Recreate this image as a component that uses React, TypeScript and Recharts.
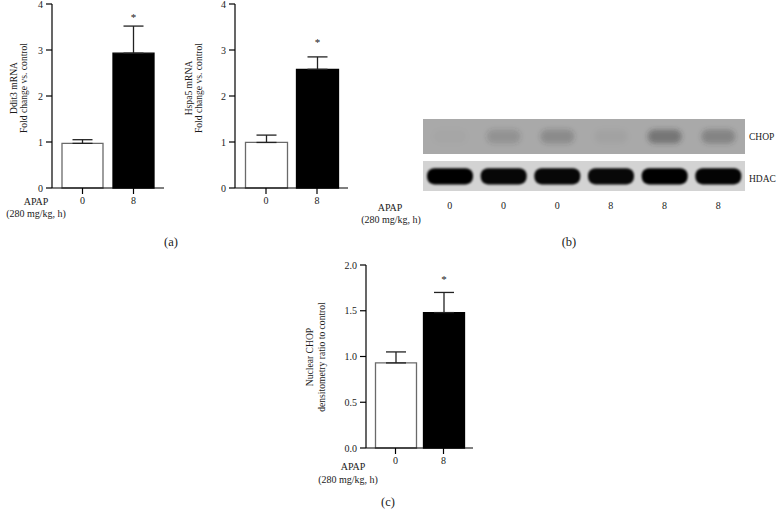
import React from 'react';
import { BarChart, Bar, XAxis, YAxis, ErrorBar, Cell, ReferenceArea } from 'recharts';

// ---------- data ----------
const groups = ['0', '8'];
const dditMean = [0.97, 2.93];
const dditErr = [0.08, 0.59];
const hspaMean = [0.99, 2.58];
const hspaErr = [0.16, 0.27];
const chopRatioMean = [0.93, 1.48];
const chopRatioErr = [0.12, 0.22];
const significance = ['', '*'];
const foldTicks = [0, 1, 2, 3, 4];
const ratioTicks = [0, 0.5, 1.0, 1.5, 2.0];
const blotLanes = ['0', '0', '0', '8', '8', '8'];
const chopIntensity = [0.02, 0.2, 0.25, 0.04, 0.42, 0.32];
const hdacIntensity = [1, 0.97, 0.97, 0.96, 1, 0.98];
const barFills = ['#ffffff', '#000000'];
const barStrokes = ['#6a6a6a', '#000000'];

const FONT = '"Liberation Serif", "DejaVu Serif", serif';
const TXT = '#1a1a1a';

type Row = { group: string; mean: number; err: number; errRange: [number, number]; sig: string };
const makeRows = (means: number[], errs: number[]): Row[] =>
  groups.map((g, i) => ({ group: g, mean: means[i], err: errs[i], errRange: [0, errs[i]], sig: significance[i] }));

const dditRows = makeRows(dditMean, dditErr);
const hspaRows = makeRows(hspaMean, hspaErr);
const ratioRows = makeRows(chopRatioMean, chopRatioErr);

const chopRows = blotLanes.map((l, i) => ({ lane: l, band: [0.3, 0.7], chop: chopIntensity[i] }));
const hdacRows = blotLanes.map((l, i) => ({ lane: l, band: [0.22, 0.76], hdac: hdacIntensity[i] }));

const starLabel = (rows: Row[], off: number) => (props: any) => {
  const { x, y, width, height, index } = props;
  const r = rows[index];
  if (!r || !r.sig) return null;
  const ppu = Number(height) / r.mean;
  const errTop = Number(y) - r.err * ppu;
  return (
    <text x={Number(x) + Number(width) / 2} y={errTop - off + 6} textAnchor="middle" fontSize={11} fontFamily={FONT} fill={TXT}>
      {r.sig}
    </text>
  );
};

const yLabel = (l1: string, l2: string, b1: number, b2: number, cy: number) => () => (
  <g fontFamily={FONT} fontSize={9.6} fill={TXT}>
    <text transform={`translate(${b1},${cy}) rotate(-90)`} textAnchor="middle">{l1}</text>
    <text transform={`translate(${b2},${cy}) rotate(-90)`} textAnchor="middle">{l2}</text>
  </g>
);

const axisLine = { stroke: '#000', strokeWidth: 1.2 };
const tickStyle = { fontSize: 10, fontFamily: FONT, fill: TXT };

type BarPanelProps = {
  rows: Row[];
  width: number;
  height: number;
  margin: { top: number; right: number; bottom: number; left: number };
  ticks: number[];
  domain: [number, number];
  pad: number;
  barSize: number;
  fmt?: (v: number) => string;
  label: () => React.ReactElement;
  starOff: number;
};

const BarPanel = (p: BarPanelProps) => (
  <BarChart width={p.width} height={p.height} data={p.rows} margin={p.margin} barCategoryGap={0}>
    <XAxis
      dataKey="group"
      axisLine={axisLine}
      tickLine={axisLine}
      tickSize={6}
      tickMargin={3}
      height={20}
      tick={tickStyle}
      padding={{ left: p.pad, right: p.pad }}
    />
    <YAxis
      domain={p.domain}
      ticks={p.ticks}
      width={40}
      axisLine={axisLine}
      tickLine={axisLine}
      tickSize={6}
      tickMargin={3}
      tick={tickStyle}
      tickFormatter={p.fmt}
      label={p.label}
      interval={0}
    />
    <Bar dataKey="mean" barSize={p.barSize} isAnimationActive={false} label={starLabel(p.rows, p.starOff)}>
      {p.rows.map((r, i) => (
        <Cell key={i} fill={barFills[i]} stroke={barStrokes[i]} strokeWidth={1.3} />
      ))}
      <ErrorBar dataKey="errRange" width={10} stroke="#222" strokeWidth={1.3} isAnimationActive={false} />
    </Bar>
  </BarChart>
);

const ChopShape = (props: any) => {
  const { x, y, width, height, payload } = props;
  return (
    <g>
      <defs>
        <filter id="chopBlur" x="-50%" y="-100%" width="200%" height="300%">
          <feGaussianBlur stdDeviation="2.6" />
        </filter>
      </defs>
      <rect x={x + 5} y={y} width={width - 10} height={height} rx={height / 2} fill="#333" fillOpacity={payload.chop} filter="url(#chopBlur)" />
    </g>
  );
};

const HdacShape = (props: any) => {
  const { x, y, width, height, payload } = props;
  return (
    <g>
      <defs>
        <filter id="hdacBlur" x="-20%" y="-50%" width="140%" height="200%">
          <feGaussianBlur stdDeviation="0.9" />
        </filter>
      </defs>
      <rect x={x} y={y} width={width} height={height} rx={height / 2.2} fill="#050505" fillOpacity={payload.hdac} filter="url(#hdacBlur)" />
    </g>
  );
};

const abs = (left: number, top: number): React.CSSProperties => ({ position: 'absolute', left, top });

export default function App() {
  return (
    <div style={{ position: 'absolute', left: 0, top: 0, width: 778, height: 519, background: '#fff', overflow: 'hidden' }}>
      <div style={abs(0, 0)}>
        <BarPanel
          rows={dditRows}
          width={175}
          height={215}
          margin={{ top: 4, right: 11, bottom: 7, left: 12 }}
          ticks={foldTicks}
          domain={[0, 4]}
          pad={5}
          barSize={41}
          label={yLabel('Ddit3 mRNA', 'Fold change vs. control', 17, 27, 88)}
          starOff={11}
        />
      </div>
      <div style={abs(183, 0)}>
        <BarPanel
          rows={hspaRows}
          width={175}
          height={215}
          margin={{ top: 4, right: 10, bottom: 7, left: 12 }}
          ticks={foldTicks}
          domain={[0, 4]}
          pad={5.5}
          barSize={42}
          label={yLabel('Hspa5 mRNA', 'Fold change vs. control', 9, 19, 88)}
          starOff={17}
        />
      </div>
      <div style={abs(290, 250)}>
        <BarPanel
          rows={ratioRows}
          width={193}
          height={225}
          margin={{ top: 15, right: 10, bottom: 7, left: 36 }}
          ticks={ratioTicks}
          domain={[0, 2]}
          pad={5.5}
          barSize={41}
          fmt={(v: number) => v.toFixed(1)}
          label={yLabel('Nuclear CHOP', 'densitometry ratio to control', 23, 35, 107)}
          starOff={15}
        />
      </div>

      {/* Western blot: CHOP strip */}
      <div style={abs(400, 100)}>
        <BarChart width={378} height={60} data={chopRows} margin={{ top: 19, right: 33, bottom: 6, left: 23 }} barCategoryGap={0}>
          <XAxis dataKey="lane" hide />
          <YAxis domain={[0, 1]} hide />
          <ReferenceArea y1={0} y2={1} fill="#a9a9a9" fillOpacity={1} stroke="none" ifOverflow="visible" />
          <Bar dataKey="band" barSize={44} isAnimationActive={false} shape={ChopShape} />
        </BarChart>
      </div>
      {/* Western blot: HDAC strip */}
      <div style={abs(400, 150)}>
        <BarChart width={378} height={70} data={hdacRows} margin={{ top: 11, right: 33, bottom: 9, left: 23 }} barCategoryGap={0}>
          <XAxis dataKey="lane" axisLine={false} tickLine={false} tickSize={0} tickMargin={11} height={20} tick={tickStyle} interval={0} />
          <YAxis domain={[0, 1]} hide />
          <ReferenceArea y1={0} y2={1} fill="#d3d3d3" fillOpacity={1} stroke="none" ifOverflow="visible" />
          <Bar dataKey="band" barSize={46} isAnimationActive={false} shape={HdacShape} />
        </BarChart>
      </div>

      <svg width={778} height={519} style={{ position: 'absolute', left: 0, top: 0, pointerEvents: 'none' }}>
        <g fontFamily={FONT} fill={TXT} fontSize={10} textAnchor="middle" dominantBaseline="central">
          <text x={36} y={201}>APAP</text>
          <text x={36} y={213}>(280 mg/kg, h)</text>
          <text x={390} y={207}>APAP</text>
          <text x={391} y={219}>(280 mg/kg, h)</text>
          <text x={353} y={466}>APAP</text>
          <text x={348} y={479}>(280 mg/kg, h)</text>
          <text x={749} y={137} textAnchor="start" fontSize={9.5}>CHOP</text>
          <text x={749} y={179} textAnchor="start" fontSize={9.5}>HDAC</text>
          <text x={171} y={242} fontSize={12.5}>(a)</text>
          <text x={569} y={242} fontSize={12.5}>(b)</text>
          <text x={388} y={502} fontSize={12.5}>(c)</text>
        </g>
      </svg>
    </div>
  );
}
